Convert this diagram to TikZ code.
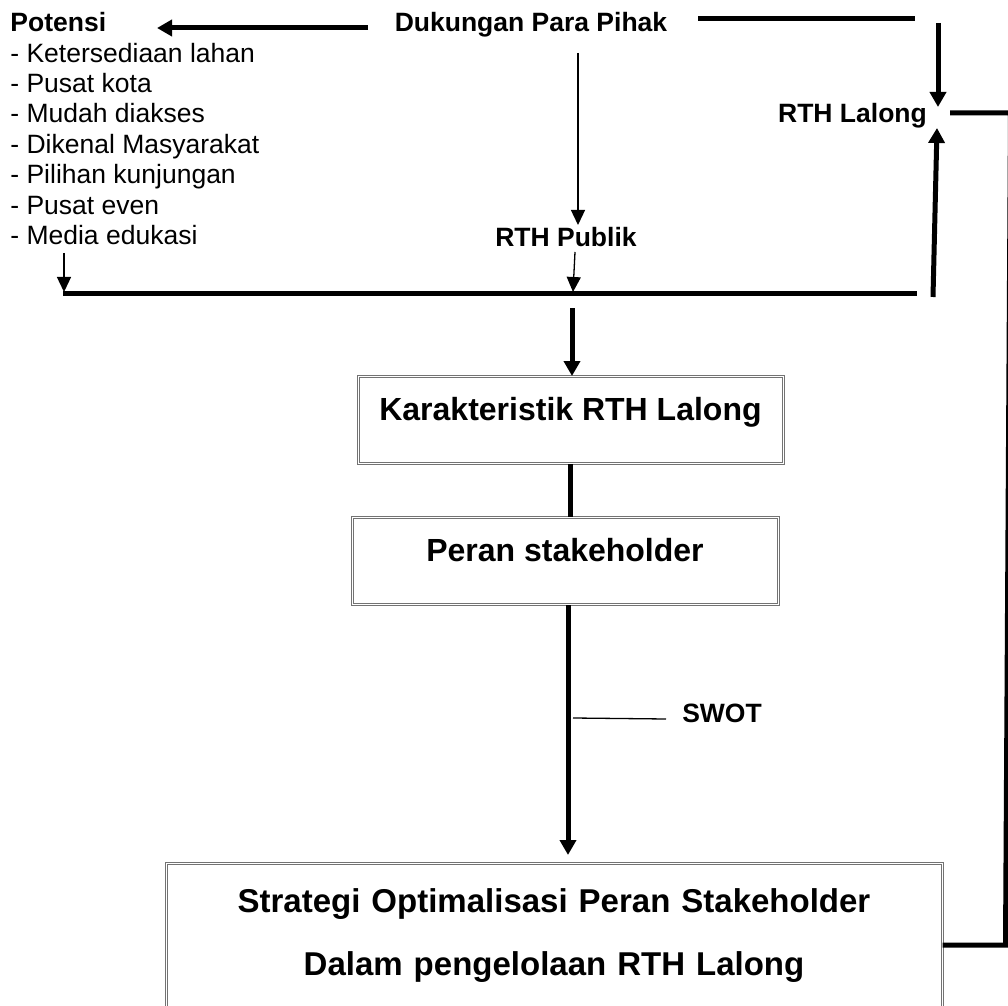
\documentclass[tikz,border=0pt]{standalone}
\usepackage{fontspec}
\setmainfont{Liberation Sans}
\usetikzlibrary{arrows.meta}
\begin{document}
\begin{tikzpicture}[x=0.5pt,y=-0.5pt,
  thickline/.style={line width=2.5pt},
  thinline/.style={line width=0.65pt},
  bigtip/.style={-{Triangle[width=8pt,length=7.5pt]}},
  smalltip/.style={-{Triangle[width=7pt,length=7.5pt]}},
  lbl/.style={font=\fontsize{13.25pt}{15.2pt}\selectfont\bfseries, inner sep=0pt, anchor=base},
  boxstyle/.style={draw=black!55, double, double distance=0.5pt, line width=0.5pt,
    inner sep=0pt, anchor=north, font=\fontsize{16pt}{19pt}\selectfont\bfseries,
    text height=22pt, text depth=21.5pt},
]
\useasboundingbox (0,0) rectangle (1008,1006);

% text nodes
\node[anchor=north west, inner sep=0pt, align=left,
      font=\fontsize{13.25pt}{15.2pt}\selectfont] (pot) at (10,12)
  {\textbf{Potensi}\\- Ketersediaan lahan\\- Pusat kota\\- Mudah diakses\\- Dikenal Masyarakat\\- Pilihan kunjungan\\- Pusat even\\- Media edukasi};
\node[lbl] (duk) at (531,31.5) {Dukungan Para Pihak};
\node[lbl] (rthl) at (852.5,122.5) {RTH Lalong};
\node[lbl] (rthp) at (566,246.5) {RTH Publik};
\node[lbl] (swot) at (722,722.5) {SWOT};

% boxes
\node[boxstyle, minimum width=212.5pt] (kar) at (570.5,376) {Karakteristik RTH Lalong};
\node[boxstyle, minimum width=213pt] (peran) at (565,517) {Peran stakeholder};
\node[draw=black!55, double, double distance=0.5pt, line width=0.5pt, inner sep=0pt,
      anchor=north, text width=388pt, align=center,
      font=\fontsize{16.5pt}{31.5pt}\selectfont\bfseries] (strat) at (554,863)
  {\rule{0pt}{24.5pt}Strategi Optimalisasi Peran Stakeholder\\Dalam pengelolaan RTH Lalong\rule[-40pt]{0pt}{40pt}};

% routing coordinates
\coordinate (dukL) at (368,28);
\coordinate (potE) at (157,28);
\coordinate (dukR) at (698,19);
\coordinate (topR) at (915,19);
\coordinate (downS) at (938,23);
\coordinate (downE) at (938,107);
\coordinate (upS) at (933,297);
\coordinate (upE) at (937,128);
\coordinate (lalR) at (950,113);
\coordinate (edgeT) at (1010.5,113);
\coordinate (edgeB) at (1005.5,945);
\coordinate (pubS) at (578,53);
\coordinate (pubE) at (578,225);
\coordinate (pub2S) at (575,252);
\coordinate (pub2E) at (573,292);
\coordinate (barL) at (63,293);
\coordinate (barR) at (917,293);
\coordinate (medS) at (64,253);
\coordinate (medE) at (64,292);
\coordinate (karS) at (572,308);
\coordinate (arrB) at (568,855);
\coordinate (swotL) at (573,718);
\coordinate (swotR) at (666,719);

% connectors
\draw[thickline,bigtip] (dukL) -- (potE);
\draw[thickline] (dukR) -- (topR);
\draw[thickline,bigtip] (downS) -- (downE);
\draw[thickline,bigtip] (upS) -- (upE);
\draw[thickline] (lalR) -- (edgeT) -- (edgeB) -- (strat.east |- edgeB);
\draw[thinline,smalltip] (pubS) -- (pubE);
\draw[thinline,smalltip] (pub2S) -- (pub2E);
\draw[thinline,smalltip] (medS) -- (medE);
\draw[thickline] (barL) -- (barR);
\draw[thickline,bigtip] (karS) -- (karS |- kar.north);
\draw[thickline] (kar.south) -- (kar.south |- peran.north);
\draw[thickline,bigtip] (peran.south -| arrB) -- (arrB);
\draw[thinline] (swotL) -- (swotR);
\end{tikzpicture}
\end{document}
